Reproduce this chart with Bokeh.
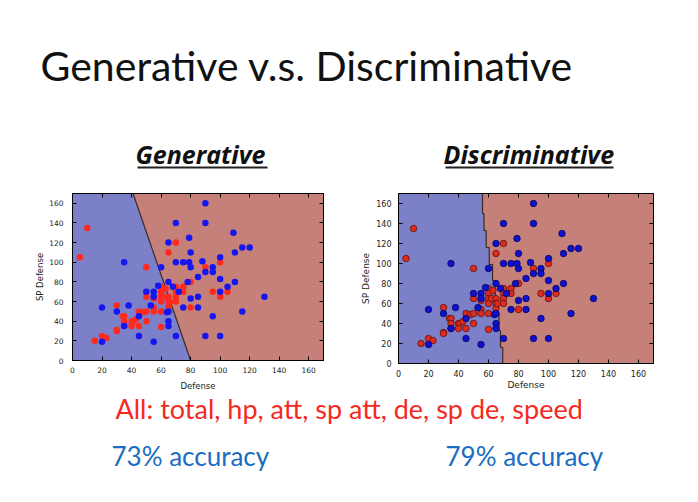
from bokeh.plotting import figure
from bokeh.models import Range1d, Spacer, LinearAxis, SingleIntervalTicker, CustomJSTickFormatter
from bokeh.layouts import column, row
from bokeh.core.properties import value
from bokeh.embed import file_html
from bokeh.resources import INLINE

# ---------------- data ----------------
title = "Generative v.s. Discriminative"
sub_left = "Generative"
sub_right = "Discriminative"
features = "All: total, hp, att, sp att, de, sp de, speed"
acc_left = "73% accuracy"
acc_right = "79% accuracy"

red_x = [5, 10, 15, 20, 23, 30, 30, 30, 34, 35, 35, 35, 40, 41, 40, 43, 45, 45, 48,
         50, 50, 50, 50, 55, 55, 55, 60, 60, 60, 60, 60, 60, 62, 63, 65, 65, 65, 65, 66,
         70, 70, 70, 70, 70, 75, 75, 80, 80, 90, 95, 100, 100, 105]
red_y = [105, 135, 20, 25, 23, 56, 31, 30, 45, 45, 40, 35, 40, 40, 35, 42, 50, 35, 49,
         95, 65, 50, 40, 63, 54, 50, 75, 70, 65, 60, 50, 34, 65, 73, 110, 65, 60, 55, 60,
         120, 75, 70, 65, 60, 75, 70, 80, 54, 95, 70, 100, 65, 70]

blue_x = [20, 20, 30, 35, 35, 38, 45, 45, 50, 55, 55, 55, 58, 60, 53, 65, 65, 64, 65,
          65, 65, 68, 70, 70, 70, 72, 75, 75, 78, 79, 80, 79, 80, 80, 85, 85, 85, 88,
          90, 90, 90, 90, 95, 95, 95, 100, 100, 100, 100, 105, 109, 110, 110, 115, 115,
          120, 130]
blue_y = [54, 19, 50, 100, 35, 56, 45, 25, 70, 70, 65, 19, 76, 95, 56, 120, 80, 49, 50,
          40, 35, 75, 140, 100, 25, 70, 100, 54, 80, 125, 110, 100, 95, 63, 85, 65, 54, 101,
          160, 140, 90, 25, 95, 90, 45, 105, 83, 70, 25, 75, 130, 110, 80, 115, 50,
          115, 65]

# decision boundaries (top -> bottom)
gen_bx = [41, 80]
gen_by = [170, 0]
disc_bx = [56, 57, 58.5, 60.5, 62.7, 64.5, 66, 67, 68, 69.5, 71]
disc_by = [170, 150, 133, 116, 99, 83, 66, 49, 33, 16, 0]

AX_MIN, AX_MAX = 0, 170

BLUE_BG = "#7b80c8"
RED_BG = "#c6807a"


def staircase(xs, ys):
    sx, sy = [xs[0]], [ys[0]]
    for i in range(1, len(xs)):
        sx += [xs[i - 1], xs[i]]
        sy += [ys[i], ys[i]]
    return sx, sy


def make_panel(bx, by, fw, fh, mbl, mbt, mbb, edge, tick_fs, lab_fs, x_std, x_lab_std, y_std, y_lab_std):
    p = figure(frame_width=fw, frame_height=fh, min_border_left=mbl, min_border_right=10,
               min_border_top=mbt, min_border_bottom=mbb,
               x_range=Range1d(AX_MIN, AX_MAX), y_range=Range1d(AX_MIN, AX_MAX),
               toolbar_location=None, output_backend="svg")
    p.grid.visible = False
    p.outline_line_color = "black"
    p.outline_line_width = 1
    p.background_fill_color = "white"
    p.border_fill_color = "white"
    # regions
    p.patch(x=[AX_MIN, AX_MIN] + list(bx), y=[AX_MIN, AX_MAX] + list(by),
            fill_color=BLUE_BG, line_color=None)
    p.patch(x=list(bx) + [AX_MAX, AX_MAX], y=list(by) + [AX_MIN, AX_MAX],
            fill_color=RED_BG, line_color=None)
    p.line(x=list(bx), y=list(by), line_color="#3a2a20", line_width=1.2)
    # points
    if edge:
        p.scatter(x=red_x, y=red_y, size=6.5, fill_color="#e02a1c", line_color="#5a1410", line_width=0.8)
        p.scatter(x=blue_x, y=blue_y, size=6.5, fill_color="#1010d0", line_color="#05055a", line_width=0.8)
    else:
        p.scatter(x=red_x, y=red_y, size=6.5, fill_color="#ff2a1e", line_color=None)
        p.scatter(x=blue_x, y=blue_y, size=6.5, fill_color="#1616f0", line_color=None)
    # axes
    for ax in (p.xaxis[0], p.yaxis[0]):
        ax.ticker = SingleIntervalTicker(interval=20)
        ax.major_tick_in = 4
        ax.major_tick_out = 0
        ax.minor_tick_line_color = None
        ax.axis_line_color = "black"
        ax.major_label_text_font = "DejaVu Sans"
        ax.major_label_text_font_size = tick_fs
        ax.major_label_text_color = "#222222"
        ax.axis_label_text_font = "DejaVu Sans"
        ax.axis_label_text_font_size = lab_fs
        ax.axis_label_text_font_style = "normal"
        ax.axis_label_text_color = "#222222"
    p.xaxis[0].axis_label = "Defense"
    p.yaxis[0].axis_label = "SP Defense"
    p.xaxis[0].major_label_standoff = x_std
    p.xaxis[0].axis_label_standoff = x_lab_std
    p.yaxis[0].major_label_standoff = y_std
    p.yaxis[0].axis_label_standoff = y_lab_std
    for loc in ("above", "right"):
        a = LinearAxis(ticker=SingleIntervalTicker(interval=20), major_tick_in=4, major_tick_out=0,
                       minor_tick_line_color=None,
                       formatter=CustomJSTickFormatter(code="return ''"),
                       major_label_standoff=0, axis_line_color="black")
        p.add_layout(a, loc)
    return p


p1 = make_panel(gen_bx, gen_by, 251, 167, 44, 9, 29, False, "7.5px", "8.5px", 2, 5, 5, 1)
dx, dy = staircase(disc_bx, disc_by)
p2 = make_panel(dx, dy, 255, 170, 45, 10, 25, True, "8px", "9px", 2, 0, 3, 2)


def text_fig(w, h):
    f = figure(width=w, height=h, x_range=Range1d(0, w), y_range=Range1d(h, 0),
               toolbar_location=None, output_backend="svg", min_border=0,
               x_axis_type=None, y_axis_type=None)
    f.grid.visible = False
    f.outline_line_color = None
    f.background_fill_color = "white"
    f.border_fill_color = "white"
    return f


top = text_fig(690, 183)
top.text(x=[40], y=[65], text=[title], text_font=value("Lato"), text_font_size="41px",
         text_color="#111111", text_baseline="middle")
top.text(x=[135, 443], y=[153, 153], text=[sub_left, sub_right], text_font=value("Open Sans"),
         text_font_size="25px", text_font_style="bold italic", text_color="#111111",
         text_baseline="middle")
top.segment(x0=[137, 445], y0=[167, 167], x1=[267, 613], y1=[167, 167],
            line_color="#222222", line_width=1.8)

bottom = text_fig(690, 112)
bottom.text(x=[115], y=[16], text=[features], text_font=value("Lato"), text_font_size="27px",
            text_color="#f52a1f", text_baseline="middle")
bottom.text(x=[111, 445], y=[63, 63], text=[acc_left, acc_right], text_font=value("Lato"),
            text_font_size="26px", text_color="#1c6cc0", text_baseline="middle")

layout = column(top,
                row(Spacer(width=28, height=205), p1, Spacer(width=20, height=205), p2),
                bottom)

open("out.html", "w").write(file_html(layout, INLINE))
